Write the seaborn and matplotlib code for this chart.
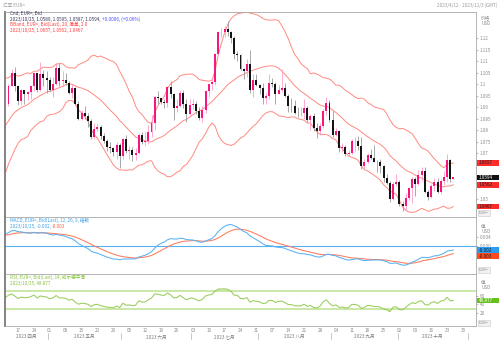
import numpy as np
import pandas as pd
import matplotlib
matplotlib.use("Agg")
import matplotlib.pyplot as plt
from matplotlib.patches import Rectangle
from matplotlib.lines import Line2D
from matplotlib.transforms import blended_transform_factory
import seaborn as sns

# ---------------------------------------------------------------- data
# closes before the first drawn bar (Feb 1 – Apr 11 2023), used to seed the indicators
warmup_close = [1.0992, 1.0908, 1.0794, 1.0727, 1.0727, 1.0712, 1.0740, 1.0678, 1.0723, 1.0739,
                1.0689, 1.0672, 1.0694, 1.0687, 1.0651, 1.0605, 1.0595, 1.0547, 1.0607, 1.0576,
                1.0668, 1.0596, 1.0636, 1.0682, 1.0550, 1.0547, 1.0580, 1.0640, 1.0732, 1.0732,
                1.0577, 1.0610, 1.0669, 1.0718, 1.0769, 1.0852, 1.0830, 1.0759, 1.0798, 1.0845,
                1.0843, 1.0905, 1.0839, 1.0902, 1.0955, 1.0906, 1.0921, 1.0903, 1.0861, 1.0913]

# daily EUR= bars, 2023-04-12 .. 2023-10-25
bar_open = [1.0913, 1.0993, 1.1047, 1.0993, 1.0925, 1.0973, 1.0958, 1.0964, 1.0990, 1.1046,
            1.0973, 1.1042, 1.1027, 1.1017, 1.0974, 1.1000, 1.1071, 1.1012, 1.1018, 1.1006,
            1.0962, 1.0983, 1.0914, 1.0850, 1.0873, 1.0863, 1.0841, 1.0770, 1.0805, 1.0814,
            1.0772, 1.0752, 1.0726, 1.0722, 1.0705, 1.0734, 1.0689, 1.0761, 1.0708, 1.0713,
            1.0693, 1.0700, 1.0780, 1.0749, 1.0753, 1.0792, 1.0830, 1.0945, 1.0939, 1.0923,
            1.0916, 1.0985, 1.0955, 1.0894, 1.0905, 1.0962, 1.0914, 1.0869, 1.0910, 1.0912,
            1.0882, 1.0854, 1.0888, 1.0968, 1.0998, 1.1010, 1.1129, 1.1226, 1.1227, 1.1237,
            1.1228, 1.1201, 1.1129, 1.1124, 1.1064, 1.1055, 1.1086, 1.0975, 1.1017, 1.0996,
            1.0981, 1.0940, 1.0946, 1.1005, 1.1000, 1.0958, 1.0975, 1.0983, 1.0948, 1.0906,
            1.0903, 1.0874, 1.0872, 1.0872, 1.0895, 1.0845, 1.0859, 1.0807, 1.0796, 1.0817,
            1.0883, 1.0918, 1.0843, 1.0777, 1.0795, 1.0721, 1.0726, 1.0697, 1.0700, 1.0752,
            1.0752, 1.0731, 1.0642, 1.0660, 1.0690, 1.0679, 1.0662, 1.0660, 1.0644, 1.0591,
            1.0570, 1.0502, 1.0566, 1.0573, 1.0477, 1.0468, 1.0504, 1.0548, 1.0588, 1.0566,
            1.0605, 1.0620, 1.0530, 1.0509, 1.0556, 1.0576, 1.0532, 1.0580, 1.0594, 1.0668,
            1.0589]
bar_high = [1.0998, 1.1065, 1.1075, 1.0995, 1.0980, 1.0975, 1.0970, 1.0990, 1.1050, 1.1050,
            1.1095, 1.1060, 1.1055, 1.1030, 1.1030, 1.1090, 1.1092, 1.1055, 1.1050, 1.1015,
            1.1000, 1.0985, 1.0925, 1.0885, 1.0905, 1.0875, 1.0850, 1.0830, 1.0830, 1.0820,
            1.0785, 1.0760, 1.0746, 1.0725, 1.0746, 1.0742, 1.0765, 1.0780, 1.0732, 1.0725,
            1.0720, 1.0785, 1.0790, 1.0790, 1.0823, 1.0865, 1.0950, 1.0970, 1.0940, 1.0935,
            1.0990, 1.1012, 1.0960, 1.0935, 1.0975, 1.0975, 1.0935, 1.0935, 1.0935, 1.0925,
            1.0900, 1.0905, 1.0975, 1.1005, 1.1025, 1.1135, 1.1230, 1.1245, 1.1250, 1.1276,
            1.1232, 1.1210, 1.1145, 1.1130, 1.1070, 1.1110, 1.1150, 1.1045, 1.1045, 1.1000,
            1.1005, 1.0960, 1.1042, 1.1025, 1.1008, 1.0995, 1.1064, 1.1005, 1.0955, 1.0940,
            1.0930, 1.0900, 1.0900, 1.0935, 1.0905, 1.0870, 1.0875, 1.0830, 1.0830, 1.0890,
            1.0945, 1.0930, 1.0882, 1.0810, 1.0800, 1.0745, 1.0735, 1.0715, 1.0760, 1.0770,
            1.0775, 1.0768, 1.0675, 1.0700, 1.0718, 1.0736, 1.0670, 1.0672, 1.0650, 1.0610,
            1.0577, 1.0573, 1.0609, 1.0582, 1.0490, 1.0525, 1.0554, 1.0595, 1.0597, 1.0625,
            1.0640, 1.0640, 1.0540, 1.0565, 1.0590, 1.0590, 1.0588, 1.0620, 1.0694, 1.0674,
            1.0595]
bar_low = [1.0906, 1.0990, 1.0970, 1.0910, 1.0910, 1.0915, 1.0930, 1.0935, 1.0970, 1.0965,
           1.0970, 1.0990, 1.0960, 1.0965, 1.0943, 1.0995, 1.0990, 1.0990, 1.0997, 1.0955,
           1.0940, 1.0908, 1.0845, 1.0845, 1.0850, 1.0812, 1.0760, 1.0760, 1.0795, 1.0760,
           1.0745, 1.0710, 1.0702, 1.0685, 1.0672, 1.0635, 1.0675, 1.0700, 1.0675, 1.0667,
           1.0670, 1.0695, 1.0740, 1.0732, 1.0740, 1.0770, 1.0801, 1.0915, 1.0912, 1.0895,
           1.0900, 1.0940, 1.0845, 1.0880, 1.0900, 1.0895, 1.0835, 1.0865, 1.0890, 1.0870,
           1.0845, 1.0833, 1.0875, 1.0945, 1.0975, 1.0995, 1.1125, 1.1205, 1.1205, 1.1210,
           1.1180, 1.1110, 1.1100, 1.1062, 1.1020, 1.1030, 1.0960, 1.0943, 1.0990, 1.0955,
           1.0912, 1.0912, 1.0935, 1.0985, 1.0915, 1.0955, 1.0965, 1.0942, 1.0880, 1.0880,
           1.0868, 1.0855, 1.0860, 1.0850, 1.0833, 1.0802, 1.0795, 1.0765, 1.0780, 1.0810,
           1.0865, 1.0835, 1.0770, 1.0775, 1.0705, 1.0703, 1.0686, 1.0686, 1.0695, 1.0710,
           1.0715, 1.0630, 1.0632, 1.0655, 1.0674, 1.0660, 1.0617, 1.0615, 1.0574, 1.0565,
           1.0488, 1.0496, 1.0555, 1.0468, 1.0448, 1.0447, 1.0498, 1.0483, 1.0515, 1.0560,
           1.0580, 1.0525, 1.0495, 1.0505, 1.0535, 1.0525, 1.0520, 1.0562, 1.0574, 1.0575,
           1.0587]
bar_close = [1.0993, 1.1047, 1.0993, 1.0925, 1.0973, 1.0958, 1.0964, 1.0990, 1.1046, 1.0973,
             1.1042, 1.1027, 1.1017, 1.0974, 1.1000, 1.1071, 1.1012, 1.1018, 1.1006, 1.0962,
             1.0983, 1.0914, 1.0850, 1.0873, 1.0863, 1.0841, 1.0770, 1.0805, 1.0814, 1.0772,
             1.0752, 1.0726, 1.0722, 1.0705, 1.0734, 1.0689, 1.0761, 1.0708, 1.0713, 1.0693,
             1.0700, 1.0780, 1.0749, 1.0753, 1.0792, 1.0830, 1.0945, 1.0939, 1.0923, 1.0916,
             1.0985, 1.0955, 1.0894, 1.0905, 1.0962, 1.0914, 1.0869, 1.0910, 1.0912, 1.0882,
             1.0854, 1.0888, 1.0968, 1.0998, 1.1010, 1.1129, 1.1226, 1.1227, 1.1237, 1.1228,
             1.1201, 1.1129, 1.1124, 1.1064, 1.1055, 1.1086, 1.0975, 1.1017, 1.0996, 1.0981,
             1.0940, 1.0946, 1.1005, 1.1000, 1.0958, 1.0975, 1.0983, 1.0948, 1.0906, 1.0903,
             1.0874, 1.0872, 1.0872, 1.0895, 1.0845, 1.0859, 1.0807, 1.0796, 1.0817, 1.0883,
             1.0918, 1.0843, 1.0777, 1.0795, 1.0721, 1.0726, 1.0697, 1.0700, 1.0752, 1.0752,
             1.0731, 1.0642, 1.0660, 1.0690, 1.0679, 1.0662, 1.0660, 1.0644, 1.0591, 1.0570,
             1.0502, 1.0566, 1.0573, 1.0477, 1.0468, 1.0504, 1.0548, 1.0588, 1.0566, 1.0605,
             1.0620, 1.0530, 1.0509, 1.0556, 1.0576, 1.0532, 1.0580, 1.0594, 1.0668, 1.0588,
             1.0594]

day_labels = ["17", "24", "01", "08", "15", "22", "29", "05", "12", "19", "26", "03", "10",
              "17", "24", "31", "07", "14", "21", "28", "04", "11", "18", "25", "02", "09",
              "16", "23", "30"]
month_labels = ["2023 四月", "2023 五月", "2023 六月", "2023 七月", "2023 八月",
                "2023 九月", "2023 十月"]
price_ticks = [1.05, 1.07, 1.075, 1.08, 1.085, 1.09, 1.095, 1.10, 1.105, 1.11, 1.115, 1.12]
macd_ticks = [0.0, 0.004]
rsi_ticks = [20, 40, 60]

# ---------------------------------------------------------------- frames
axis_days = pd.bdate_range("2023-04-12", "2023-11-03")
n = len(bar_close)
bars = pd.DataFrame({"date": axis_days[:n], "open": bar_open, "high": bar_high,
                     "low": bar_low, "close": bar_close})
bars["x"] = np.arange(n)
bars["up"] = bars["close"] >= bars["open"]

hist = pd.DataFrame({"close": warmup_close + bar_close})
hist["x"] = np.arange(-len(warmup_close), n)
mid = hist["close"].rolling(20).mean()
sd = hist["close"].rolling(20).std(ddof=0)
hist["bb_mid"], hist["bb_up"], hist["bb_lo"] = mid, mid + 2 * sd, mid - 2 * sd
ema12 = hist["close"].ewm(span=12, adjust=False).mean()
ema26 = hist["close"].ewm(span=26, adjust=False).mean()
hist["macd"] = ema12 - ema26
hist["signal"] = hist["macd"].ewm(span=9, adjust=False).mean()
delta = hist["close"].diff()
gain = delta.clip(lower=0).ewm(alpha=1 / 14, adjust=False).mean()
loss = (-delta.clip(upper=0)).ewm(alpha=1 / 14, adjust=False).mean()
hist["rsi"] = 100 - 100 / (1 + gain / loss)
shown = hist[hist["x"] >= -3]
last = hist.iloc[-1]

# ---------------------------------------------------------------- style
sns.set_theme(style="white")
plt.rcParams["font.family"] = ["Noto Sans CJK SC", "DejaVu Sans"]

W, H = 500, 340
fig = plt.figure(figsize=(W / 100, H / 100), dpi=100)
fig.patch.set_facecolor("white")
renderer = fig.canvas.get_renderer()


def fx(p):
    return p / W


def fy(p):
    return 1 - p / H


LEFT, RIGHT = 5, 476
ax_p = fig.add_axes([fx(LEFT), fy(217), fx(RIGHT) - fx(LEFT), (217 - 12) / H])
ax_m = fig.add_axes([fx(LEFT), fy(274), fx(RIGHT) - fx(LEFT), (274 - 217) / H])
ax_r = fig.add_axes([fx(LEFT), fy(326), fx(RIGHT) - fx(LEFT), (326 - 274) / H])

UP, DOWN = "#f7157f", "#141414"
UP_WICK, DOWN_WICK = "#ff9cc8", "#9a9a9a"
BAND = "#ff8a80"
MACD_C, SIG_C = "#58b2f0", "#ff7a5c"
RSI_C, RSI_BAND = "#98cc5a", "#c6e6a0"
TXT = "#8c8c8c"
FS = 3.3

XLIM = (-1.1, 147.1)
for ax in (ax_p, ax_m, ax_r):
    ax.set_xlim(*XLIM)
    ax.set_facecolor("white")
    ax.tick_params(axis="x", bottom=False, labelbottom=False)
    ax.yaxis.tick_right()
    ax.tick_params(axis="y", labelsize=FS, colors=TXT, length=1.5, width=0.4, pad=1.2)
    for s in ax.spines.values():
        s.set_color("#a8a8a8")
        s.set_linewidth(0.6)
    ax.spines["left"].set_color("#7a7a7a")
    ax.spines["left"].set_linewidth(1.3)

# ---------------------------------------------------------------- price panel
ax_p.set_ylim(1.0422, 1.1313)
ax_p.set_yticks(price_ticks)
ax_p.set_yticklabels([f"{t:g}" for t in price_ticks])

for key in ("bb_up", "bb_mid", "bb_lo"):
    sns.lineplot(data=shown, x="x", y=key, ax=ax_p, color=BAND, lw=0.7,
                 estimator=None, sort=False, legend=False)

for up, body_c, wick_c in ((True, UP, UP_WICK), (False, DOWN, DOWN_WICK)):
    sub = bars[bars["up"] == up]
    ax_p.vlines(sub["x"], sub["low"], sub["high"], color=wick_c, lw=0.6, zorder=3)
    height = (sub["close"] - sub["open"]).abs().clip(lower=0.00012)
    bottom = sub[["open", "close"]].min(axis=1)
    ax_p.bar(sub["x"], height, bottom=bottom, width=0.62, color=body_c, lw=0, zorder=4)

# ---------------------------------------------------------------- MACD panel
ax_m.set_ylim(-0.01244, 0.01289)
ax_m.set_yticks(macd_ticks)
ax_m.set_yticklabels([f"{t:.3f}" for t in macd_ticks])
ax_m.axhline(0, color=MACD_C, lw=0.8, zorder=1)
sns.lineplot(data=shown, x="x", y="signal", ax=ax_m, color=SIG_C, lw=0.75,
             estimator=None, sort=False, legend=False)
sns.lineplot(data=shown, x="x", y="macd", ax=ax_m, color=MACD_C, lw=0.75,
             estimator=None, sort=False, legend=False)

# ---------------------------------------------------------------- RSI panel
ax_r.set_ylim(-8, 108)
ax_r.set_yticks(rsi_ticks)
ax_r.set_yticklabels([str(t) for t in rsi_ticks])
ax_r.axhline(70, color=RSI_BAND, lw=1.3, zorder=1)
ax_r.axhline(30, color=RSI_BAND, lw=1.3, zorder=1)
ax_r.fill_between(shown["x"], 70, shown["rsi"], where=shown["rsi"] > 70,
                  color=RSI_BAND, alpha=0.8, lw=0, interpolate=True)
ax_r.fill_between(shown["x"], 30, shown["rsi"], where=shown["rsi"] < 30,
                  color=RSI_BAND, alpha=0.8, lw=0, interpolate=True)
sns.lineplot(data=shown, x="x", y="rsi", ax=ax_r, color=RSI_C, lw=0.75,
             estimator=None, sort=False, legend=False)

for ax in (ax_p, ax_m, ax_r):
    ax.set_xlabel("")
    ax.set_ylabel("")


# ---------------------------------------------------------------- header and legends
def text_run(x0, y0, parts):
    """Write coloured pieces one after another on a single line."""
    x = fx(x0)
    for s, c in parts:
        t = fig.text(x, fy(y0), s, fontsize=FS, color=c, va="center")
        x += t.get_window_extent(renderer).width / W


fig.text(fx(3), fy(5), "汇率 EUR=", fontsize=FS, color="#9a9a9a", va="center")
fig.text(fx(497), fy(5), "2023/4/12 - 2023/11/3 (GMT)", fontsize=FS, color="#9a9a9a",
         va="center", ha="right")

chg = bar_close[-1] - bar_close[-2]
ohlc = ", ".join(f"{v:.4f}" for v in (bar_open[-1], bar_high[-1], bar_low[-1], bar_close[-1]))
text_run(10, 13.5, [("Cnd, EUR=, Bid", "#333355")])
text_run(10, 19, [(f"2023/10/25, {ohlc}, ", "#333355"),
                  (f"{chg:+.4f}, ({chg / bar_close[-2] * 100:+.2f}%)", "#4a4aff")])
text_run(10, 24.5, [("BBand, EUR=, Bid(Last), 20, 简单, 2.0", "#ff3b3b")])
text_run(10, 30, [(f"2023/10/25, {last['bb_up']:.4f}, {last['bb_mid']:.4f}, "
                   f"{last['bb_lo']:.4f}", "#ff3b3b")])

text_run(10, 220.5, [("MACD, EUR=, Bid(Last), 12, 26, 9, 指数", "#3aa0e8")])
text_run(10, 226, [(f"2023/10/25, {last['macd']:.3f}, ", "#3aa0e8"),
                   (f"{last['signal']:.3f}", "#ff5a3c")])

text_run(10, 277.5, [("RSI, EUR=, Bid(Last), 14, 威尔德平滑", "#86c23c")])
text_run(10, 283, [(f"2023/10/25, {last['rsi']:.3f}", "#86c23c")])

# ---------------------------------------------------------------- right-hand axis captions and tags
for y0, top in ((18, "价格"), (226, "值"), (282, "值")):
    fig.text(fx(481), fy(y0), top, fontsize=FS, color=TXT, va="center")
    fig.text(fx(481), fy(y0 + 5.5), "USD", fontsize=FS, color=TXT, va="center")


def value_tag(ax, v, text, fc, tc="#1a1a1a", shift=0.0):
    yp = H - ax.transData.transform((0, v))[1] + shift
    fig.patches.append(Rectangle((fx(477), fy(yp + 2.9)), fx(499) - fx(477), 5.8 / H,
                                 transform=fig.transFigure, fc=fc, ec="none", zorder=5))
    fig.text(fx(478.5), fy(yp), text, fontsize=FS, color=tc, va="center", zorder=6)


def unit_tag(y0):
    fig.patches.append(Rectangle((fx(478), fy(y0 + 2.8)), fx(490) - fx(478), 5.6 / H,
                                 transform=fig.transFigure, fc="#f2f2f2", ec="#c8c8c8",
                                 lw=0.4, zorder=5))
    fig.text(fx(479), fy(y0), "EUR=", fontsize=FS - 0.4, color=TXT, va="center", zorder=6)


value_tag(ax_p, last["bb_up"], f"{last['bb_up']:.4f}", "#ff2a2a")
value_tag(ax_p, bar_close[-1], f"{bar_close[-1]:.4f}", "#111111", tc="white")
value_tag(ax_p, last["bb_mid"], f"{last['bb_mid']:.4f}", "#ff2a2a")
value_tag(ax_p, last["bb_lo"], f"{last['bb_lo']:.4f}", "#ff2a2a")
unit_tag(213)
value_tag(ax_m, last["macd"], f"{last['macd']:.3f}", "#2b9cf2")
value_tag(ax_m, last["signal"], f"{last['signal']:.3f}", "#ff4a1e", shift=2.5)
unit_tag(270)
value_tag(ax_r, last["rsi"], f"{last['rsi']:.3f}", "#66c21a", tc="white")
unit_tag(323)

# ---------------------------------------------------------------- date axis
bt = blended_transform_factory(ax_r.transData, fig.transFigure)
mondays = axis_days[axis_days.dayofweek == 0]
mon_pos = axis_days.get_indexer(mondays)
for pos, lab in zip(mon_pos, day_labels):
    ax_r.text(pos, fy(331), lab, transform=bt, fontsize=FS, color=TXT,
              ha="center", va="center", clip_on=False)

month_start = axis_days.to_series().groupby(axis_days.to_period("M")).head(1)
starts = list(axis_days.get_indexer(month_start.index))
bounds = [XLIM[0]] + [s - 0.5 for s in starts[1:]]
ends = [s - 0.5 for s in starts[1:]] + [XLIM[1]]
for lab, a, b in zip(month_labels, bounds, ends):
    ax_r.text((a + b) / 2, fy(336.5), lab, transform=bt, fontsize=FS, color="#7a7a7a",
              ha="center", va="center", clip_on=False)
for s in starts[1:]:
    fig.lines.append(Line2D([s - 0.5, s - 0.5], [fy(333), fy(340)], transform=bt,
                            color="#b0b0b0", lw=0.5))

fig.savefig("out.png", dpi=100)
